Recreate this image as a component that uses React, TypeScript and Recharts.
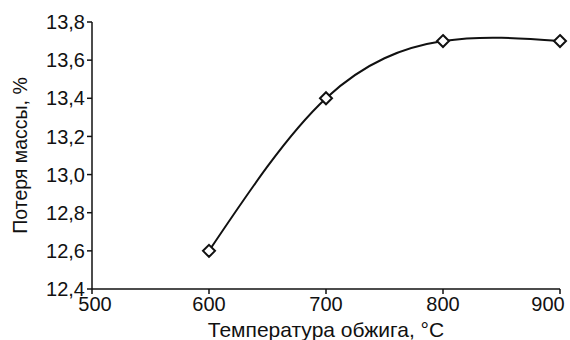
import { LineChart, Line, XAxis, YAxis, Label } from "recharts"

const temperatures = [600, 700, 800, 900]
const massLoss = [12.6, 13.4, 13.7, 13.7]
const xTicks = [500, 600, 700, 800, 900]
const yTicks = [12.4, 12.6, 12.8, 13.0, 13.2, 13.4, 13.6, 13.8]

const data = temperatures.map((t, i) => ({ t, loss: massLoss[i] }))

const font = "'Liberation Sans', Arial, sans-serif"

function Diamond(props: any) {
  const { cx, cy } = props
  if (cx == null || cy == null) return null
  const r = 6
  return (
    <polygon
      points={`${cx},${cy - r} ${cx + r},${cy} ${cx},${cy + r} ${cx - r},${cy}`}
      fill="#fff"
      stroke="#111"
      strokeWidth={2}
    />
  )
}

// end labels are nudged inwards, like the original does
function XTick(props: any) {
  const { x, y, payload } = props
  let shift = 0
  if (payload.value === xTicks[xTicks.length - 1]) shift = -10
  if (payload.value === xTicks[0]) shift = 3
  return (
    <text
      x={x + shift}
      y={y + 1}
      dy="0.71em"
      textAnchor="middle"
      fill="#111"
      fontSize={20}
      fontFamily={font}
    >
      {payload.value}
    </text>
  )
}

export default function App() {
  return (
    <div style={{ position: "absolute", left: 0, top: 0, background: "#fff" }}>
      <LineChart
        width={570}
        height={340}
        data={data}
        margin={{ top: 22, right: 10, left: 0, bottom: 21 }}
      >
        <XAxis
          dataKey="t"
          type="number"
          domain={[500, 900]}
          ticks={xTicks}
          stroke="#111"
          strokeWidth={1.5}
          tickSize={5}
          height={30}
          tick={<XTick />}
        >
          <Label
            value="Температура обжига, °C"
            position="insideBottom"
            offset={-18}
            style={{ fill: "#111", fontSize: 21, fontFamily: font }}
          />
        </XAxis>
        <YAxis
          type="number"
          domain={[12.4, 13.8]}
          ticks={yTicks}
          width={92}
          stroke="#111"
          strokeWidth={1.5}
          tickSize={5}
          tickFormatter={(v: number) => v.toFixed(1).replace(".", ",")}
          tick={{ fill: "#111", fontSize: 20, fontFamily: font }}
        >
          <Label
            value="Потеря массы, %"
            angle={-90}
            position="insideLeft"
            offset={20}
            style={{ fill: "#111", fontSize: 19.5, fontFamily: font, textAnchor: "middle" }}
          />
        </YAxis>
        <Line
          dataKey="loss"
          type="natural"
          stroke="#111"
          strokeWidth={2}
          dot={<Diamond />}
          activeDot={false}
          isAnimationActive={false}
        />
      </LineChart>
    </div>
  )
}
